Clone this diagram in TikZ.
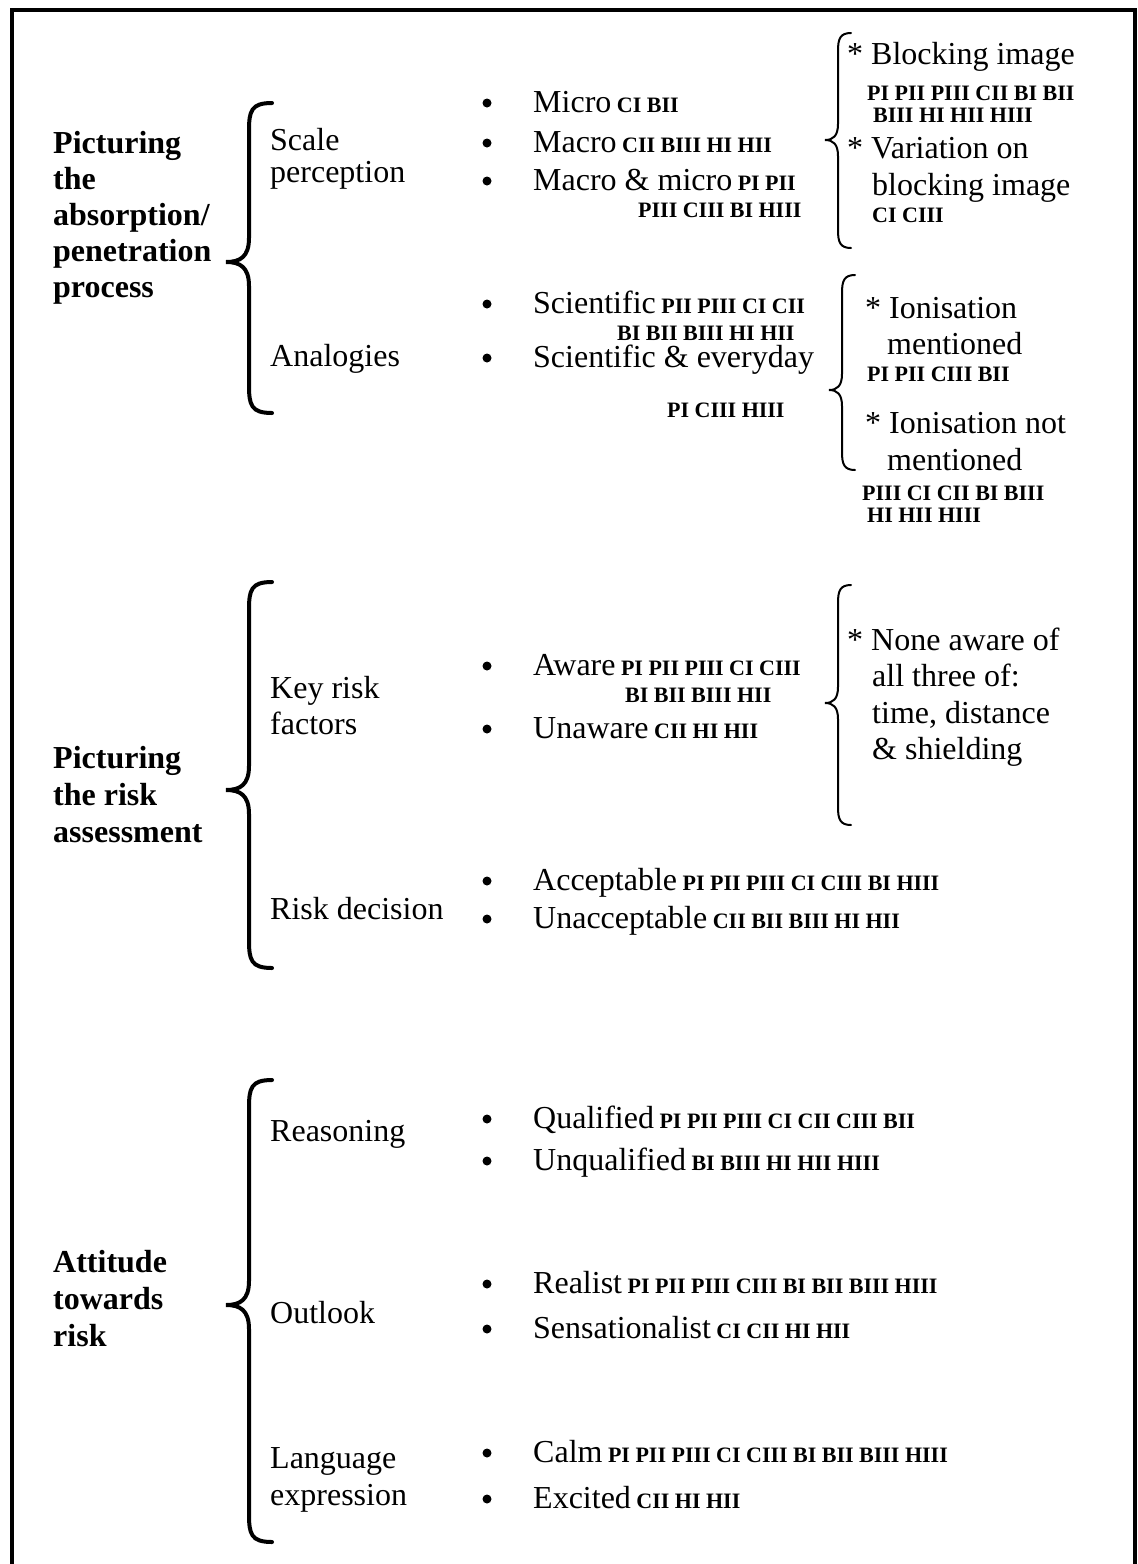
\documentclass[tikz,border=0pt]{standalone}
\usepackage{fontspec}
\setmainfont{Liberation Serif}
% small bold participant codes
\newcommand{\tags}[1]{{\fontsize{22}{23}\selectfont\bfseries #1}}
% large left brace: top y, tip y, bottom y
\newcommand{\bigbrace}[3]{%
  \draw[bigbr] (272,#1) .. controls (251,#1) and (249,#1+8) .. (249,#1+28)
    -- (249,#2-24) .. controls (249,#2-5) and (240,#2) .. (226,#2)
    .. controls (240,#2) and (249,#2+5) .. (249,#2+24)
    -- (249,#3-28) .. controls (249,#3-8) and (251,#3) .. (272,#3);}
% thin right-hand brace: x of stem, top y, tip y, bottom y
\newcommand{\thinbrace}[4]{%
  \draw[thinbr] (#1+13,#2) .. controls (#1+2,#2) and (#1,#2+6) .. (#1,#2+18)
    -- (#1,#3-16) .. controls (#1,#3-4) and (#1-5,#3) .. (#1-13,#3)
    .. controls (#1-5,#3) and (#1,#3+4) .. (#1,#3+16)
    -- (#1,#4-18) .. controls (#1,#4-6) and (#1+2,#4) .. (#1+13,#4);}
\begin{document}
\begin{tikzpicture}[x=1pt,y=-1pt,
  txt/.style={anchor=base west,inner sep=0pt,font=\fontsize{32}{36}\selectfont},
  head/.style={txt,font=\fontsize{32}{36}\selectfont\bfseries},
  code/.style={anchor=base west,inner sep=0pt,font=\fontsize{22}{23}\selectfont\bfseries},
  dot/.style={circle,fill=black,inner sep=0pt,minimum size=9pt},
  bigbr/.style={line width=4pt,line cap=round},
  thinbr/.style={line width=2pt,line cap=round},
  frame/.style={line width=4.5pt}]
\useasboundingbox (0,0) rectangle (1138,1564);
\fill[white] (0,0) rectangle (1138,1564);

% outer frame (open at the bottom)
\draw[frame] (12,1564) -- (12,10) -- (1135,10) -- (1135,1564);

% ---------- first theme ----------
\node[head] (h1a) at (53,153) {Picturing};
\node[head] (h1b) at (53,189) {the};
\node[head] (h1c) at (53,225) {absorption/};
\node[head] (h1d) at (53,261) {penetration};
\node[head] (h1e) at (53,297) {process};
\bigbrace{103}{262}{413}

\node[txt] (s1a) at (270,150) {Scale};
\node[txt] (s1b) at (270,182) {perception};
\node[txt] (s2) at (270,366) {Analogies};

\node[dot] (b1) at (487,103) {};
\node[txt] (i1) at (533,112) {Micro\tags{ CI BII}};
\node[dot] (b2) at (487,143) {};
\node[txt] (i2) at (533,152) {Macro\tags{ CII BIII HI HII}};
\node[dot] (b3) at (487,181) {};
\node[txt] (i3) at (533,190) {Macro \& micro\tags{ PI PII}};
\node[code] (i3b) at (638,217) {PIII CIII BI HIII};

\node[dot] (b4) at (487,304) {};
\node[txt] (i4) at (533,313) {Scientific\tags{ PII PIII CI CII}};
\node[code] (i4b) at (617,340) {BI BII BIII HI HII};
\node[dot] (b5) at (487,358) {};
\node[txt] (i5) at (533,367) {Scientific \& everyday};
\node[code] (i5b) at (667,417) {PI CIII HIII};

\thinbrace{838}{33}{140}{248}
\node[txt] (r1) at (847,64) {* Blocking image};
\node[code] (r1b) at (867,100) {PI PII PIII CII BI BII};
\node[code] (r1c) at (873,122) {BIII HI HII HIII};
\node[txt] (r2) at (847,158) {* Variation on};
\node[txt] (r2b) at (872,195) {blocking image};
\node[code] (r2c) at (872,222) {CI CIII};

\thinbrace{842}{275}{390}{470}
\node[txt] (r3) at (865,318) {* Ionisation};
\node[txt] (r3b) at (887,354) {mentioned};
\node[code] (r3c) at (867,381) {PI PII CIII BII};
\node[txt] (r4) at (865,433) {* Ionisation not};
\node[txt] (r4b) at (887,470) {mentioned};
\node[code] (r4c) at (862,500) {PIII CI CII BI BIII};
\node[code] (r4d) at (867,522) {HI HII HIII};

% ---------- second theme ----------
\node[head] (h2a) at (53,768) {Picturing};
\node[head] (h2b) at (53,805) {the risk};
\node[head] (h2c) at (53,842) {assessment};
\bigbrace{582}{790}{968}

\node[txt] (s3a) at (270,698) {Key risk};
\node[txt] (s3b) at (270,734) {factors};
\node[txt] (s4) at (270,919) {Risk decision};

\node[dot] (b6) at (487,666) {};
\node[txt] (i6) at (533,675) {Aware\tags{ PI PII PIII CI CIII}};
\node[code] (i6b) at (625,702) {BI BII BIII HII};
\node[dot] (b7) at (487,729) {};
\node[txt] (i7) at (533,738) {Unaware\tags{ CII HI HII}};

\thinbrace{838}{585}{703}{825}
\node[txt] (r5) at (847,650) {* None aware of};
\node[txt] (r5b) at (872,686) {all three of:};
\node[txt] (r5c) at (872,723) {time, distance};
\node[txt] (r5d) at (872,759) {\& shielding};

\node[dot] (b8) at (487,881) {};
\node[txt] (i8) at (533,890) {Acceptable\tags{ PI PII PIII CI CIII BI HIII}};
\node[dot] (b9) at (487,919) {};
\node[txt] (i9) at (533,928) {Unacceptable\tags{ CII BII BIII HI HII}};

% ---------- third theme ----------
\node[head] (h3a) at (53,1272) {Attitude};
\node[head] (h3b) at (53,1309) {towards};
\node[head] (h3c) at (53,1346) {risk};
\bigbrace{1080}{1305}{1542}

\node[txt] (s5) at (270,1141) {Reasoning};
\node[txt] (s6) at (270,1323) {Outlook};
\node[txt] (s7a) at (270,1468) {Language};
\node[txt] (s7b) at (270,1505) {expression};

\node[dot] (b10) at (487,1119) {};
\node[txt] (i10) at (533,1128) {Qualified\tags{ PI PII PIII CI CII CIII BII}};
\node[dot] (b11) at (487,1161) {};
\node[txt] (i11) at (533,1170) {Unqualified\tags{ BI BIII HI HII HIII}};
\node[dot] (b12) at (487,1284) {};
\node[txt] (i12) at (533,1293) {Realist\tags{ PI PII PIII CIII BI BII BIII HIII}};
\node[dot] (b13) at (487,1329) {};
\node[txt] (i13) at (533,1338) {Sensationalist\tags{ CI CII HI HII}};
\node[dot] (b14) at (487,1453) {};
\node[txt] (i14) at (533,1462) {Calm\tags{ PI PII PIII CI CIII BI BII BIII HIII}};
\node[dot] (b15) at (487,1499) {};
\node[txt] (i15) at (533,1508) {Excited\tags{ CII HI HII}};
\end{tikzpicture}
\end{document}
